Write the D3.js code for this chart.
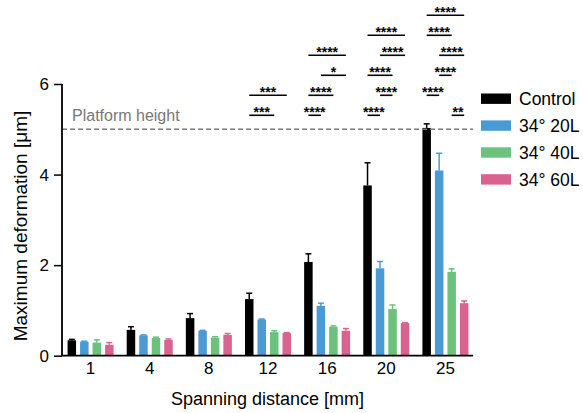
<!DOCTYPE html>
<html>
<head>
<meta charset="utf-8">
<script src="https://cdn.jsdelivr.net/npm/d3@7"></script>
<style>
  html, body { margin: 0; padding: 0; background: #fff; }
  svg { display: block; font-family: "Liberation Sans", Arial, sans-serif; }
</style>
</head>
<body>
<svg id="chart" width="583" height="413"></svg>
<script>
// Spanning distances (mm) on the x axis
const distances = ["1", "4", "8", "12", "16", "20", "25"];
const seriesNames = ["Control", "34° 20L", "34° 40L", "34° 60L"];
const seriesColors = ["#000000", "#4a9ad5", "#6bc27d", "#d8638e"];

// Mean maximum deformation (µm) per series
const controlMean = [0.34, 0.57, 0.83, 1.25, 2.07, 3.76, 5.03];
const l20Mean     = [0.31, 0.45, 0.55, 0.80, 1.10, 1.93, 4.09];
const l40Mean     = [0.29, 0.39, 0.40, 0.52, 0.64, 1.03, 1.85];
const l60Mean     = [0.24, 0.35, 0.46, 0.50, 0.55, 0.72, 1.16];

// Upper error (SD) per series
const controlErr = [0.02, 0.07, 0.10, 0.13, 0.18, 0.50, 0.09];
const l20Err     = [0.01, 0.01, 0.01, 0.01, 0.06, 0.15, 0.38];
const l40Err     = [0.06, 0.02, 0.02, 0.03, 0.02, 0.09, 0.07];
const l60Err     = [0.05, 0.02, 0.03, 0.01, 0.05, 0.01, 0.05];

const yTicks = [0, 2, 4, 6];
const platformHeight = 5;

// Pairwise significance: distance, series indices compared, stacking level, label
const sigGroup = ["12", "12", "16", "16", "16", "16", "20", "20", "20", "20", "20", "25", "25", "25", "25", "25", "25"];
const sigFrom  = [0, 0, 0, 0, 1, 0, 0, 1, 0, 1, 0, 2, 0, 1, 1, 0, 0];
const sigTo    = [2, 3, 1, 2, 3, 3, 1, 2, 2, 3, 3, 3, 1, 2, 3, 2, 3];
const sigLevel = [0, 1, 0, 1, 2, 3, 0, 1, 2, 3, 4, 0, 1, 2, 3, 4, 5];
const sigLabel = ["***", "***", "****", "****", "*", "****", "****", "****", "****", "****", "****",
                  "**", "****", "****", "****", "****", "****"];

const means = [controlMean, l20Mean, l40Mean, l60Mean];
const errs = [controlErr, l20Err, l40Err, l60Err];

const svg = d3.select("#chart");

const x0 = d3.scaleBand().domain(distances).range([61, 475]).paddingInner(0.222).paddingOuter(0.111);
const x1 = d3.scaleBand().domain(d3.range(seriesNames.length)).range([0, x0.bandwidth()]).paddingInner(0.32).paddingOuter(0);
const y = d3.scaleLinear().domain([0, 6]).range([355.7, 84]);

const axisX = 62;

// bars
const bars = [];
distances.forEach((d, gi) => {
  means.forEach((arr, si) => {
    bars.push({ d, si, v: arr[gi], e: errs[si][gi] });
  });
});

const g = svg.append("g");
g.selectAll("rect.bar").data(bars).join("rect")
  .attr("class", "bar")
  .attr("x", b => x0(b.d) + x1(b.si))
  .attr("width", x1.bandwidth())
  .attr("y", b => y(b.v))
  .attr("height", b => y(0) - y(b.v))
  .attr("fill", b => seriesColors[b.si]);

// upper error bars
const cx = b => x0(b.d) + x1(b.si) + x1.bandwidth() / 2;
g.selectAll("line.err").data(bars).join("line")
  .attr("x1", cx).attr("x2", cx)
  .attr("y1", b => y(b.v)).attr("y2", b => y(b.v + b.e))
  .attr("stroke", b => seriesColors[b.si]).attr("stroke-width", 1.5);
g.selectAll("line.cap").data(bars).join("line")
  .attr("x1", b => cx(b) - 3).attr("x2", b => cx(b) + 3)
  .attr("y1", b => y(b.v + b.e)).attr("y2", b => y(b.v + b.e))
  .attr("stroke", b => seriesColors[b.si]).attr("stroke-width", 1.5);

// platform height reference
svg.append("line")
  .attr("x1", axisX).attr("x2", 473)
  .attr("y1", y(platformHeight)).attr("y2", y(platformHeight))
  .attr("stroke", "#777").attr("stroke-width", 1.5).attr("stroke-dasharray", "5,3");
svg.append("text")
  .attr("x", 72).attr("y", y(platformHeight) - 8)
  .attr("font-size", 16).attr("fill", "#777")
  .text("Platform height");

// axes
const yAxis = svg.append("g")
  .attr("transform", `translate(${axisX},0)`)
  .call(d3.axisLeft(y).tickValues(yTicks).tickSize(8).tickPadding(5).tickFormat(d3.format("d")));
yAxis.select(".domain").attr("stroke-width", 1.8).attr("d", `M-0,${y(6)}V${y(0)}`);
yAxis.selectAll(".tick line").attr("stroke-width", 1.5);
yAxis.selectAll("text").attr("font-size", 17).attr("font-family", "Liberation Sans, Arial, sans-serif").attr("fill", "#000");

const xAxis = svg.append("g")
  .attr("transform", `translate(0,${y(0)})`)
  .call(d3.axisBottom(x0).tickSize(0).tickPadding(6));
xAxis.select(".domain").attr("stroke-width", 1.8).attr("d", `M${axisX},0H473`);
xAxis.selectAll("text").attr("font-size", 17).attr("font-family", "Liberation Sans, Arial, sans-serif").attr("fill", "#000");

// axis titles
svg.append("text")
  .attr("x", (axisX + 473) / 2).attr("y", 405)
  .attr("text-anchor", "middle").attr("font-size", 18)
  .text("Spanning distance [mm]");
svg.append("text")
  .attr("transform", `translate(27,226) rotate(-90)`)
  .attr("text-anchor", "middle").attr("font-size", 19)
  .text("Maximum deformation [μm]");

// significance brackets
const sig = sigGroup.map((d, i) => {
  const a = x0(d) + x1(sigFrom[i]) + x1.bandwidth() / 2;
  const b = x0(d) + x1(sigTo[i]) + x1.bandwidth() / 2;
  const ly = y(platformHeight) - 14 - 20 * sigLevel[i];
  return { a, b, ly, label: sigLabel[i] };
});
const sg = svg.append("g");
sg.selectAll("line").data(sig).join("line")
  .attr("x1", s => s.a).attr("x2", s => s.b)
  .attr("y1", s => s.ly).attr("y2", s => s.ly)
  .attr("stroke", "#000").attr("stroke-width", 1.6);
sg.selectAll("text").data(sig).join("text")
  .attr("x", s => (s.a + s.b) / 2).attr("y", s => s.ly + 2)
  .attr("text-anchor", "middle").attr("font-size", 14).attr("font-weight", "bold")
  .text(s => s.label);

// legend
const legend = svg.append("g");
seriesNames.forEach((name, i) => {
  const ly = 98.7 + i * 26.9;
  legend.append("rect").attr("x", 481).attr("y", ly - 5.2).attr("width", 30).attr("height", 10.4).attr("fill", seriesColors[i]);
  legend.append("text").attr("x", 519).attr("y", ly).attr("dy", "0.35em").attr("font-size", 17.5).text(name);
});
</script>
</body>
</html>
